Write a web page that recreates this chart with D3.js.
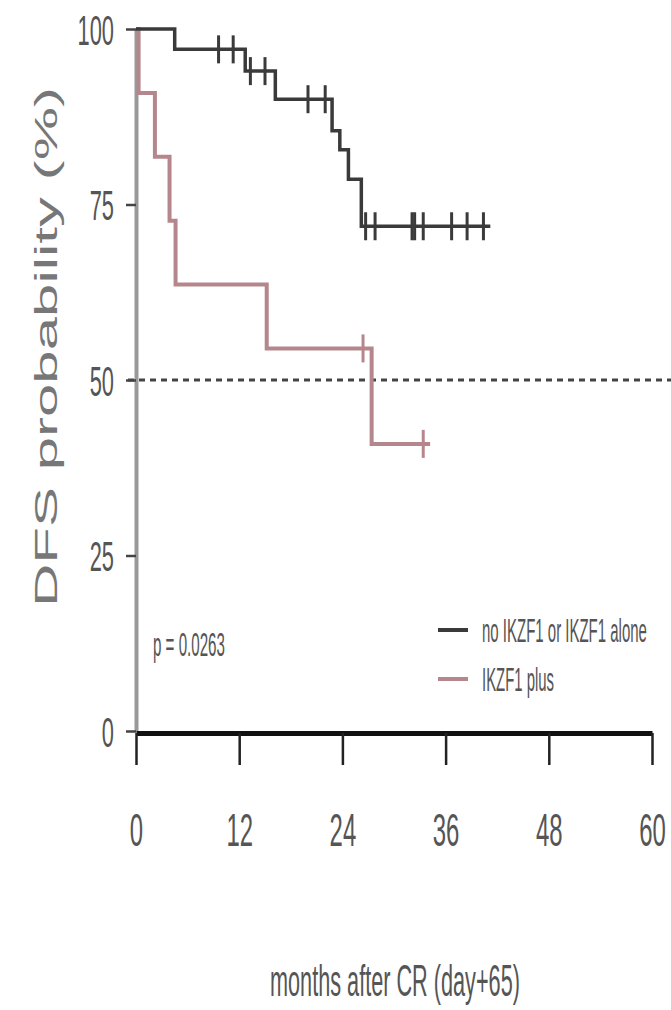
<!DOCTYPE html>
<html>
<head>
<meta charset="utf-8">
<script src="https://cdn.jsdelivr.net/npm/d3@7"></script>
<style>
  html, body { margin: 0; padding: 0; background: #fff; }
  svg { display: block; }
  text { font-family: "Liberation Sans", Arial, Helvetica, sans-serif; }
</style>
</head>
<body>
<svg id="chart" width="671" height="1010"></svg>
<script>
// Kaplan–Meier disease-free survival, two groups
const xTicks = [0, 12, 24, 36, 48, 60];
const yTicks = [0, 25, 50, 75, 100];
const groupNames = ["no IKZF1 or IKZF1 alone", "IKZF1 plus"];

// no IKZF1 or IKZF1 alone
const noPlusEventMonths = [4.5, 12.7, 16.2, 22.8, 23.7, 24.7, 26.2];
const noPlusSurvival = [97.1, 94.0, 90.0, 85.5, 82.8, 78.6, 71.9];
const noPlusCensorMonths = [9.6, 11.3, 13.3, 15.0, 20.0, 22.0, 26.7, 27.8, 32.1, 32.4, 33.4, 36.7, 38.5, 40.4];
const noPlusLastMonth = 41.2;

// IKZF1 plus
const plusEventMonths = [0.3, 2.2, 3.9, 4.6, 15.2, 27.4];
const plusSurvival = [90.9, 81.8, 72.7, 63.6, 54.5, 40.9];
const plusCensorMonths = [26.4, 33.4];
const plusLastMonth = 34.2;

const pValueText = "p = 0.0263";
const medianLine = 50;

const svg = d3.select("#chart");
const x = d3.scaleLinear().domain([0, 60]).range([136, 652]);
const y = d3.scaleLinear().domain([0, 100]).range([731, 29]);

const TEXT = "#555";
const SX = 0.52; // narrow glyphs

// step series helpers
function stepPoints(times, surv, last) {
  const pts = [[0, 100]];
  times.forEach((t, i) => pts.push([t, surv[i]]));
  pts.push([last, surv[surv.length - 1]]);
  return pts;
}
function survAt(times, surv, t) {
  let s = 100;
  times.forEach((tt, i) => { if (tt <= t) s = surv[i]; });
  return s;
}

// text squeezed horizontally so that it spans a given width
function fittedText(parent, str, left, baseline, size, width, color) {
  const t = parent.append("text")
    .attr("font-size", size).attr("fill", color)
    .text(str);
  const natural = t.node().getComputedTextLength();
  t.attr("transform", `translate(${left},${baseline}) scale(${width / natural},1)`);
  return t;
}

const line = d3.line().x(d => x(d[0])).y(d => y(d[1])).curve(d3.curveStepAfter);

// 50% reference line
svg.append("line")
  .attr("x1", 128).attr("x2", 671)
  .attr("y1", y(medianLine)).attr("y2", y(medianLine))
  .attr("stroke", "#444").attr("stroke-width", 3)
  .attr("stroke-dasharray", "6,5");

// Y axis
const yAxis = svg.append("g")
  .attr("transform", `translate(${x(0)},0)`)
  .call(d3.axisLeft(y).tickValues(yTicks).tickSize(10).tickSizeOuter(0));
yAxis.select(".domain").attr("stroke", "#999").attr("stroke-width", 4);
yAxis.selectAll(".tick line").attr("stroke", "#444").attr("stroke-width", 2.5);
yAxis.selectAll(".tick text")
  .attr("fill", TEXT).attr("font-size", 42)
  .attr("x", -22 / SX).attr("dy", "0.36em")
  .attr("transform", `scale(${SX},1)`);

// X axis
const xAxis = svg.append("g")
  .attr("transform", `translate(0,${y(0) + 2})`)
  .call(d3.axisBottom(x).tickValues(xTicks).tickSize(32).tickSizeOuter(0));
xAxis.select(".domain").attr("stroke", "#111").attr("stroke-width", 5);
xAxis.selectAll(".tick line").attr("stroke", "#222").attr("stroke-width", 2.5);
xAxis.selectAll(".tick text")
  .attr("fill", TEXT).attr("font-size", 46)
  .attr("y", 80).attr("dy", "0.71em")
  .attr("transform", `scale(${SX},1)`);

// survival curves
const series = [
  { name: groupNames[0], color: "#3a3a3a", width: 3.5,
    times: noPlusEventMonths, surv: noPlusSurvival, censor: noPlusCensorMonths, last: noPlusLastMonth },
  { name: groupNames[1], color: "#b5878c", width: 4,
    times: plusEventMonths, surv: plusSurvival, censor: plusCensorMonths, last: plusLastMonth }
];

series.slice().reverse().forEach(s => {
  svg.append("path")
    .datum(stepPoints(s.times, s.surv, s.last))
    .attr("d", line)
    .attr("fill", "none")
    .attr("stroke", s.color)
    .attr("stroke-width", s.width);
  svg.append("g").selectAll("line")
    .data(s.censor)
    .join("line")
    .attr("x1", d => x(d)).attr("x2", d => x(d))
    .attr("y1", d => y(survAt(s.times, s.surv, d)) - 14)
    .attr("y2", d => y(survAt(s.times, s.surv, d)) + 14)
    .attr("stroke", s.color)
    .attr("stroke-width", 3);
});

// p value
fittedText(svg, pValueText, 153, 656, 34, 72, TEXT);

// legend
const legend = svg.append("g");
series.forEach((s, i) => {
  const ly = 630 + i * 49;
  legend.append("line")
    .attr("x1", 438).attr("x2", 468)
    .attr("y1", ly).attr("y2", ly)
    .attr("stroke", s.color).attr("stroke-width", 4);
  fittedText(legend, s.name, 482, ly + 12, 34, i === 0 ? 165 : 72, TEXT);
});

// axis titles
fittedText(svg, "months after CR (day+65)", 270, 996, 44, 250, TEXT);

const yTitle = svg.append("text")
  .attr("font-size", 31).attr("fill", "#777")
  .attr("text-anchor", "middle")
  .text("DFS probability (%)");
const yTitleLen = yTitle.node().getComputedTextLength();
yTitle.attr("transform", `translate(57,347) rotate(-90) scale(${520 / yTitleLen},1)`);
</script>
</body>
</html>
